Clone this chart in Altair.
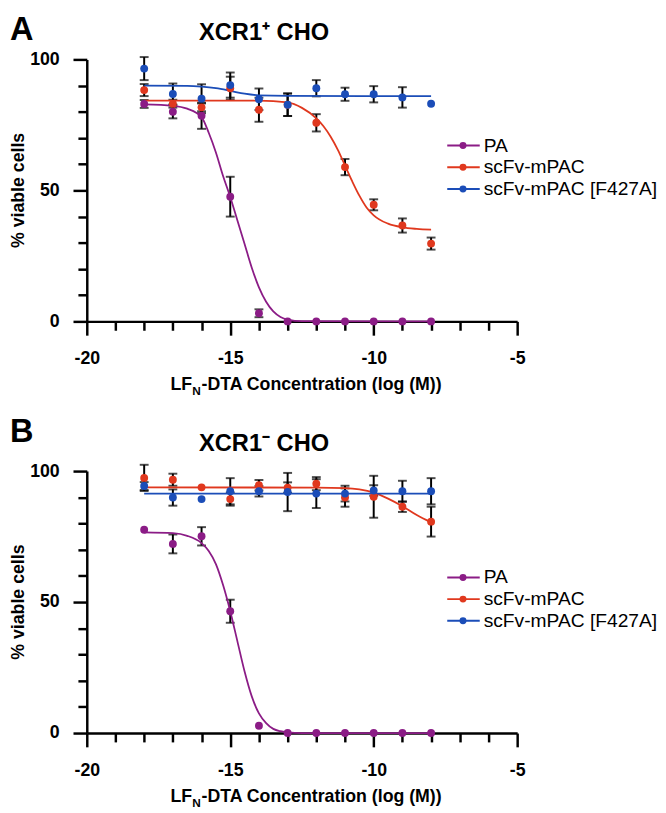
import altair as alt
import pandas as pd

# ---------------- data ----------------
conc = [-18, -17, -16, -15, -14, -13, -12, -11, -10, -9, -8]
series_names = ["PA", "scFv-mPAC", "scFv-mPAC [F427A]"]
series_colors = ["#8B1C86", "#E0381E", "#1B4DB8"]

# Panel A : XCR1+ CHO  (mean % viable cells and error)
a_pa = [83.0, 80.0, 78.5, 47.6, 3.1, 0, 0, 0, 0, 0, 0]
a_pa_err = [1.5, 2.5, 5.0, 7.6, 1.5, 0, 0, 0, 0, 0, 0]
a_mpac = [88.3, 83.1, 81.7, 89.0, 80.8, 82.7, 75.8, 58.9, 44.5, 36.6, 29.7]
a_mpac_err = [2.3, 1.5, 1.5, 4.4, 4.6, 4.3, 3.3, 3.1, 2.1, 2.7, 2.3]
a_f427 = [96.5, 86.8, 85.0, 90.2, 84.8, 82.7, 89.0, 86.7, 86.7, 85.5, 83.1]
a_f427_err = [4.4, 4.0, 5.5, 4.8, 4.1, 4.3, 3.1, 2.5, 3.1, 3.9, 0]

# Panel A fitted curves
a_pa_fit_x = [-18, -17, -16.5, -16, -15.75, -15.5, -15.25, -15, -14.75, -14.5, -14.25, -14, -13.75, -13.5, -13.25, -13, -12.5, -8]
a_pa_fit_y = [82.8, 82.3, 81.2, 78.0, 72.0, 64.5, 55.5, 47.5, 38.5, 29.5, 20.5, 13.0, 7.5, 3.8, 1.7, 0.7, 0.1, 0.0]
a_mpac_fit_x = [-18, -14, -13, -12.5, -12, -11.75, -11.5, -11.25, -11, -10.75, -10.5, -10.25, -10, -9.5, -9, -8.5, -8]
a_mpac_fit_y = [84.3, 84.3, 83.6, 81.5, 77.5, 74.5, 70.5, 65.5, 59.5, 53.5, 48.0, 43.5, 40.5, 37.3, 35.9, 35.3, 35.0]
a_f427_fit_x = [-18, -16.5, -16, -15.5, -15, -14.5, -14, -13, -8]
a_f427_fit_y = [90.0, 89.9, 89.6, 89.0, 88.0, 86.9, 86.3, 86.1, 86.0]

# Panel B : XCR1- CHO
b_pa = [77.6, 72.2, 75.1, 46.5, 2.8, 0, 0, 0, 0, 0, 0]
b_pa_err = [0, 3.6, 3.5, 4.4, 0, 0, 0, 0, 0, 0, 0]
b_mpac = [97.4, 96.7, 93.8, 89.3, 94.6, 93.7, 95.2, 89.9, 90.2, 86.4, 80.7]
b_mpac_err = [5.0, 2.3, 0, 2.5, 2.0, 2.0, 2.5, 3.5, 8.0, 2.0, 5.7]
b_f427 = [94.3, 89.9, 89.3, 92.3, 92.3, 92.0, 91.4, 91.4, 92.6, 92.3, 92.3]
b_f427_err = [1.5, 3.1, 0, 5.0, 2.0, 7.3, 5.5, 3.0, 2.0, 4.0, 5.0]

b_pa_fit_x = [-18, -17, -16.5, -16, -15.75, -15.5, -15.25, -15, -14.75, -14.5, -14.25, -14, -13.75, -13.5, -13.25, -13, -12.5, -8]
b_pa_fit_y = [76.6, 76.3, 75.3, 72.5, 69.5, 64.5, 56.5, 46.5, 35.0, 23.5, 14.0, 7.5, 3.8, 1.6, 0.7, 0.3, 0.0, 0.0]
b_mpac_fit_x = [-18, -12, -11, -10.5, -10, -9.5, -9, -8.5, -8]
b_mpac_fit_y = [93.8, 93.7, 93.5, 93.0, 91.8, 89.5, 86.6, 83.2, 80.4]
b_f427_fit_x = [-18, -8]
b_f427_fit_y = [91.4, 91.4]

FONT = "Liberation Sans"
W, H = 437, 266

x_axis = alt.Axis(
    values=list(range(-20, -4)),
    labelExpr="datum.value % 5 === 0 ? '' + datum.value : ''",
    tickSize={"condition": {"test": "datum.value % 5 === 0", "value": 14}, "value": 9},
    tickColor="black", tickWidth=2.5, domainColor="black", domainWidth=2.5,
    labelFont=FONT, labelFontSize=18, labelFontWeight="bold", labelColor="black",
    labelPadding=15, labelOverlap=False, labelFlush=False, grid=False, title=None,
)
y_axis = alt.Axis(
    values=list(range(0, 101, 10)),
    labelExpr="datum.value % 50 === 0 ? '' + datum.value : ''",
    tickSize={"condition": {"test": "datum.value % 50 === 0", "value": 14}, "value": 9},
    tickColor="black", tickWidth=2.5, domainColor="black", domainWidth=2.5,
    labelFont=FONT, labelFontSize=18, labelFontWeight="bold", labelColor="black",
    labelPadding=14, labelOverlap=False, labelFlush=False, grid=False, title=None,
)


def X(f):
    return alt.X(f"{f}:Q", scale=alt.Scale(domain=[-20, -5], nice=False, zero=False), axis=x_axis)


def Y(f):
    return alt.Y(f"{f}:Q", scale=alt.Scale(domain=[0, 100], nice=False, zero=False), axis=y_axis)


color_scale = alt.Scale(domain=series_names, range=series_colors)


def txt(s, x, y, size, weight="bold", align="center", baseline="alphabetic", angle=0):
    return alt.Chart(pd.DataFrame({"t": [s]})).mark_text(
        font=FONT, fontSize=size, fontWeight=weight, align=align, baseline=baseline,
        angle=angle, color="black",
    ).encode(text="t:N", x=alt.value(x), y=alt.value(y))


def panel(letter, title, means, errs, fits, letter_y, legend_y):
    rows = []
    for name, m, e in zip(series_names, means, errs):
        for c, v, ev in zip(conc, m, e):
            rows.append({"x": c, "y": v, "err": ev, "series": name})
    pts = pd.DataFrame(rows)
    eb = pts[pts["err"] > 0].copy()
    eb["lo"] = eb["y"] - eb["err"]
    eb["hi"] = eb["y"] + eb["err"]

    frows = []
    for name, (fx, fy) in zip(series_names, fits):
        for a, b in zip(fx, fy):
            frows.append({"x": a, "y": b, "series": name})
    fit = pd.DataFrame(frows)

    rule = alt.Chart(eb).mark_rule(color="black", strokeWidth=2).encode(x=X("x"), y=Y("lo"), y2="hi:Q")
    tlo = alt.Chart(eb).mark_tick(color="black", orient="horizontal", size=9, thickness=2).encode(x=X("x"), y=Y("lo"))
    thi = alt.Chart(eb).mark_tick(color="black", orient="horizontal", size=9, thickness=2).encode(x=X("x"), y=Y("hi"))
    lines = alt.Chart(fit).mark_line(strokeWidth=1.8, interpolate="monotone").encode(
        x=X("x"), y=Y("y"),
        color=alt.Color("series:N", scale=color_scale, legend=None),
        detail="series:N",
    )
    dots = alt.Chart(pts).mark_circle(size=64, opacity=1).encode(
        x=X("x"), y=Y("y"),
        color=alt.Color("series:N", scale=color_scale, legend=None),
    )

    layers = [rule, tlo, thi, lines, dots]

    # legend
    one = pd.DataFrame({"a": [0]})
    for i, (name, col) in enumerate(zip(series_names, series_colors)):
        ly = legend_y + i * 22
        layers.append(alt.Chart(one).mark_rule(color=col, strokeWidth=2).encode(
            x=alt.value(366), x2=alt.value(399), y=alt.value(ly)))
        layers.append(alt.Chart(one).mark_circle(color=col, size=50, opacity=1).encode(
            x=alt.value(382), y=alt.value(ly)))
        layers.append(txt(name, 403, ly, 19.5, weight="normal", align="left", baseline="middle"))

    # texts
    layers.append(txt(letter, -78, letter_y, 33, align="left", baseline="top"))
    layers.append(txt(title, 180, -20, 24))
    layers.append(txt("% viable cells", -69, 133, 18, angle=270, baseline="middle"))
    # x title with subscript N
    anchor = 107
    ty = H + 70
    layers.append(txt("LF", anchor, ty, 18, align="right"))
    layers.append(txt("N", anchor, ty + 5, 12, align="left"))
    layers.append(txt("-DTA Concentration (log (M))", anchor + 9.5, ty, 18, align="left"))

    return alt.layer(*layers).properties(width=W, height=H)


pA = panel(
    "A", "XCR1\u207a CHO",
    [a_pa, a_mpac, a_f427], [a_pa_err, a_mpac_err, a_f427_err],
    [(a_pa_fit_x, a_pa_fit_y), (a_mpac_fit_x, a_mpac_fit_y), (a_f427_fit_x, a_f427_fit_y)],
    -46, 87.5,
)
pB = panel(
    "B", "XCR1\u207b CHO",
    [b_pa, b_mpac, b_f427], [b_pa_err, b_mpac_err, b_f427_err],
    [(b_pa_fit_x, b_pa_fit_y), (b_mpac_fit_x, b_mpac_fit_y), (b_f427_fit_x, b_f427_fit_y)],
    -56, 108,
)

chart = alt.vconcat(pA, pB, spacing=152, bounds="flush").properties(
    padding={"left": 2, "top": 0, "right": 0, "bottom": 0}
).configure_view(stroke=None)
chart.save("out.html", embed_options={"renderer": "svg", "actions": False})
